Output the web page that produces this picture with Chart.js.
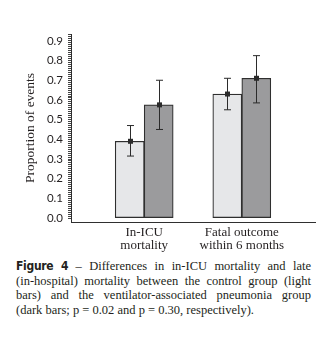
<!DOCTYPE html>
<html>
<head>
<meta charset="utf-8">
<script src="https://cdn.jsdelivr.net/npm/chart.js@4.4.1/dist/chart.umd.min.js"></script>
<style>
  html, body { margin: 0; padding: 0; background: #fff; }
  #wrap { position: relative; width: 328px; height: 343px; overflow: hidden; }
  #box { position: absolute; left: 0; top: 0; width: 328px; height: 256px; }
  #caption { position: absolute; left: 16px; top: 259px; width: 295px;
    font: 12.5px "Liberation Serif", serif; line-height: 14.7px; color: #231f20; }
  #caption span { display: block; white-space: nowrap; text-align: justify; text-align-last: justify; }
  #caption span.last { text-align-last: left; }
  #caption b { font-family: "DejaVu Sans Condensed", "Liberation Sans Narrow", "DejaVu Sans", sans-serif;
    font-stretch: condensed; font-weight: bold; font-size: 12px; letter-spacing: -0.3px; }
</style>
</head>
<body>
<div id="wrap">
  <div id="box"><canvas id="myChart"></canvas></div>
  <div id="caption">
    <span><b>Figure 4</b> – Differences in in-ICU mortality and late</span>
    <span>(in-hospital) mortality between the control group (light</span>
    <span>bars) and the ventilator-associated pneumonia group</span>
    <span class="last">(dark bars; p = 0.02 and p = 0.30, respectively).</span>
  </div>
</div>
<script>
const ctx = document.getElementById('myChart');

// groups on the x axis
const groups = [['In-ICU', 'mortality'], ['Fatal outcome', 'within 6 months']];

// control group (light bars)
const control = [0.39, 0.63];
const controlLow = [0.315, 0.55];
const controlHigh = [0.47, 0.71];

// ventilator-associated pneumonia group (dark bars)
const vap = [0.575, 0.71];
const vapLow = [0.45, 0.585];
const vapHigh = [0.70, 0.825];

// labelled y ticks
const yLabels = [0.0, 0.1, 0.2, 0.3, 0.4, 0.5, 0.6, 0.7, 0.8, 0.9];

const lows = [controlLow, vapLow];
const highs = [controlHigh, vapHigh];

// error bars + square markers on top of each bar
const errorBars = {
    id: 'errorBars',
    afterDatasetsDraw(chart) {
        const c = chart.ctx;
        const y = chart.scales.y;
        c.save();
        c.strokeStyle = '#2b2b2b';
        c.fillStyle = '#2b2b2b';
        c.lineWidth = 1;
        chart.data.datasets.forEach((ds, i) => {
            chart.getDatasetMeta(i).data.forEach((bar, j) => {
                const x = Math.round(bar.x) + 0.5;
                const top = y.getPixelForValue(highs[i][j]);
                const bot = y.getPixelForValue(lows[i][j]);
                c.beginPath();
                c.moveTo(x, top); c.lineTo(x, bot);
                c.moveTo(x - 3.5, top); c.lineTo(x + 3.5, top);
                c.moveTo(x - 3.5, bot); c.lineTo(x + 3.5, bot);
                c.stroke();
                const v = y.getPixelForValue(ds.data[j].y);
                c.fillRect(x - 2.5, v - 2.5, 5, 5);
            });
        });
        c.restore();
    }
};

const myChart = new Chart(ctx, {
    type: 'bar',
    data: {
        datasets: [{
            label: 'Control',
            data: control.map((v, i) => ({ x: i + 1, y: v })),
            backgroundColor: '#e6e7e9',
            borderColor: '#2f2f2f',
            borderWidth: 1.2,
            borderSkipped: false,
            barThickness: 29
        }, {
            label: 'VAP',
            data: vap.map((v, i) => ({ x: i + 1, y: v })),
            backgroundColor: '#9b9b9d',
            borderColor: '#2f2f2f',
            borderWidth: 1.2,
            borderSkipped: false,
            barThickness: 29
        }]
    },
    options: {
        responsive: true,
        maintainAspectRatio: false,
        animation: false,
        layout: { padding: { top: 34, right: 13, bottom: 0, left: 0 } },
        plugins: { legend: { display: false }, tooltip: { enabled: false } },
        scales: {
            x: {
                type: 'linear',
                offset: false,
                min: 0.25,
                max: 2.75,
                grid: { display: true, drawOnChartArea: false, drawTicks: false },
                border: { display: true, color: '#2f2f2f', width: 1 },
                afterBuildTicks: (s) => { s.ticks = groups.map((g, i) => ({ value: i + 1 })); },
                ticks: {
                    autoSkip: false,
                    maxRotation: 0,
                    padding: 4,
                    color: '#231f20',
                    font: { family: '"Liberation Serif", serif', size: 13, lineHeight: 1.0 },
                    callback: (v) => groups[Math.round(v) - 1]
                }
            },
            y: {
                min: -0.02,
                max: 0.935,
                afterBuildTicks: (s) => { s.ticks = s.ticks.filter(t => t.value > -0.001); },
                afterFit: (s) => { s.width = 71; },
                grid: { drawOnChartArea: false, drawTicks: true, tickLength: 3, color: '#444' },
                border: { display: true, color: '#2f2f2f', width: 1 },
                title: {
                    display: true,
                    text: 'Proportion of events',
                    color: '#231f20',
                    padding: { top: 22, bottom: 0 },
                    font: { family: '"Liberation Serif", serif', size: 13.5 }
                },
                ticks: {
                    stepSize: 0.01,
                    autoSkip: false,
                    padding: 5,
                    color: '#231f20',
                    font: { family: 'Lato, sans-serif', size: 11.5 },
                    callback: (v) => {
                        const n = Math.round(v * 10) / 10;
                        return Math.abs(v - n) < 0.001 && yLabels.includes(n) ? n.toFixed(1) : '';
                    }
                }
            }
        }
    },
    plugins: [errorBars]
});
</script>
</body>
</html>
